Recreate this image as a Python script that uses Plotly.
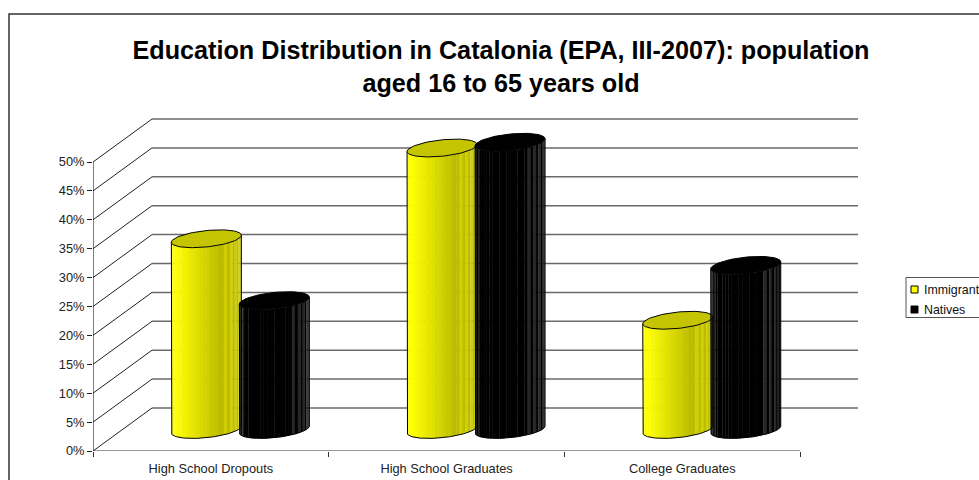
import numpy as np
import plotly.graph_objects as go

categories = ["High School Dropouts", "High School Graduates", "College Graduates"]
series_names = ["Immigrant", "Natives"]
immigrant = [33.0, 48.7, 18.9]
natives = [22.3, 49.7, 28.4]
y_ticks = [0, 5, 10, 15, 20, 25, 30, 35, 40, 45, 50]
title_text = "Education Distribution in Catalonia (EPA, III-2007): population<br>aged 16 to 65 years old"

W, H = 979, 480
PX_L, PX_R, PX_T, PX_B = 93, 858, 118, 451
PX_CAT = 235.7
PX_PCT = 5.78
XMAX = (PX_R - PX_L) / PX_CAT
YMAX = (PX_B - PX_T) / PX_PCT
DX = 59 / PX_CAT
DY = 43 / PX_PCT
A = 35 / PX_CAT
BW = 34 / PX_CAT
TILT = 3.5 / PX_PCT
B = 8.2 / PX_PCT


def paper_x(px):
    return (px - PX_L) / (PX_R - PX_L)


def paper_y(px):
    return (PX_B - px) / (PX_B - PX_T)


fig = go.Figure()


def line(xs, ys, color="#000000", width=1.0):
    fig.add_trace(go.Scatter(x=xs, y=ys, mode="lines", cliponaxis=False, hoverinfo="skip",
                             showlegend=False, line=dict(color=color, width=width)))


# walls
for v in y_ticks:
    line([0, DX], [v, v + DY], "#222222", 1)
    line([DX, XMAX], [v + DY, v + DY], "#6a6a6a", 1.5)
line([0, 0], [0, y_ticks[-1]], "#000000", 1)
line([0, len(categories)], [0, 0], "#333333", 1.2)


def ell_y(base, t):
    return base + TILT * np.cos(t) + B * np.sin(t)


def yellow_col(f, i):
    lvl = 255 if f < 0.08 else 255 - (f - 0.08) / 0.62 * 67
    lvl = max(lvl, 188)
    if f > 0.75 and i % 2 == 0:
        lvl += 20
    lvl = int(min(lvl, 255))
    return f"rgb({lvl},{lvl},0)"


def black_col(f, i):
    if f > 0.72 and i % 2 == 0:
        return "#262626"
    if f < 0.1 and i % 2 == 0:
        return "#1c1c1c"
    return "#000000"


def cylinder(cx, value, colfn, top_col, outline):
    n = 30
    ts = np.linspace(np.pi, 2 * np.pi, n + 1)
    base_y = DY / 2
    for i in range(n):
        t = np.linspace(ts[i], min(ts[i + 1] + 0.012, 2 * np.pi), 4)
        xb = cx + A * np.cos(t)
        yb = ell_y(base_y, t)
        yt = ell_y(base_y + value, t)
        f = ((xb[0] + xb[-1]) / 2 - (cx - A)) / (2 * A)
        fig.add_trace(go.Scatter(
            x=np.r_[xb, xb[::-1]], y=np.r_[yb, yt[::-1]], mode="lines", fill="toself",
            fillcolor=colfn(f, i), line=dict(width=0), hoverinfo="skip", showlegend=False))
    # side outline
    t = np.linspace(np.pi, 2 * np.pi, 60)
    xo = np.r_[cx - A, cx + A * np.cos(t), cx + A]
    yo = np.r_[base_y + value - TILT, ell_y(base_y, t), base_y + value + TILT]
    line(xo, yo, outline, 1)
    # top cap
    t = np.linspace(0, 2 * np.pi, 90)
    fig.add_trace(go.Scatter(
        x=cx + A * np.cos(t), y=ell_y(base_y + value, t), mode="lines", fill="toself",
        fillcolor=top_col, line=dict(color=outline, width=1), hoverinfo="skip", showlegend=False))


for i in range(len(categories)):
    c = i + 0.5 + DX / 2
    cylinder(c - BW, immigrant[i], yellow_col, "#C4C400", "#000000")
    cylinder(c + BW, natives[i], black_col, "#000000", "#000000")

# page frame and legend
shapes = [
    dict(type="rect", xref="paper", yref="paper", x0=paper_x(9), x1=paper_x(1000),
         y0=paper_y(500), y1=paper_y(14), line=dict(color="#333333", width=1.5), layer="below"),
    dict(type="rect", xref="paper", yref="paper", x0=paper_x(906), x1=paper_x(1000),
         y0=paper_y(317.5), y1=paper_y(277.5), line=dict(color="#555555", width=1)),
    dict(type="rect", xref="paper", yref="paper", x0=paper_x(911), x1=paper_x(918),
         y0=paper_y(293), y1=paper_y(286), fillcolor="#FFFF00", line=dict(color="#000000", width=1)),
    dict(type="rect", xref="paper", yref="paper", x0=paper_x(911), x1=paper_x(918),
         y0=paper_y(313), y1=paper_y(306), fillcolor="#000000", line=dict(color="#000000", width=1)),
]
annotations = [
    dict(text=series_names[0], xref="paper", yref="paper", x=paper_x(922), y=paper_y(289.5),
         xanchor="left", yanchor="middle", showarrow=False, font=dict(size=12.4, color="#111111")),
    dict(text=series_names[1], xref="paper", yref="paper", x=paper_x(922), y=paper_y(309.5),
         xanchor="left", yanchor="middle", showarrow=False, font=dict(size=12.4, color="#111111")),
]

fig.update_layout(
    width=W, height=H, paper_bgcolor="white", plot_bgcolor="white", showlegend=False,
    margin=dict(l=PX_L, r=W - PX_R, t=PX_T, b=H - PX_B, pad=0, autoexpand=False),
    font=dict(family="Liberation Sans, Arial, sans-serif", size=12.8, color="#222222"),
    title=dict(text=title_text, x=501 / W, xanchor="center",
               y=1 - 59 / H, yanchor="top", font=dict(size=25.2, color="#000000", family="Liberation Sans, Arial, sans-serif", weight="bold")),
    xaxis=dict(range=[0, XMAX], tickmode="array",
               tickvals=[i + 0.5 for i in range(len(categories))], ticktext=categories,
               ticks="", showgrid=False, zeroline=False, showline=False, ticklabelstandoff=8,
               minor=dict(tickmode="array", tickvals=list(range(len(categories) + 1)), ticks="outside",
                          ticklen=5, tickcolor="#333333", tickwidth=1, showgrid=False)),
    yaxis=dict(range=[0, YMAX], tickmode="array", tickvals=y_ticks,
               ticktext=[f"{v}%" for v in y_ticks], ticks="outside", ticklen=5,
               tickcolor="#222222", showgrid=False, zeroline=False, showline=False),
    shapes=shapes, annotations=annotations,
)
fig.write_html("out.html", config={"displayModeBar": False},
               post_script="document.body.style.margin='0';document.body.style.overflow='hidden';")
